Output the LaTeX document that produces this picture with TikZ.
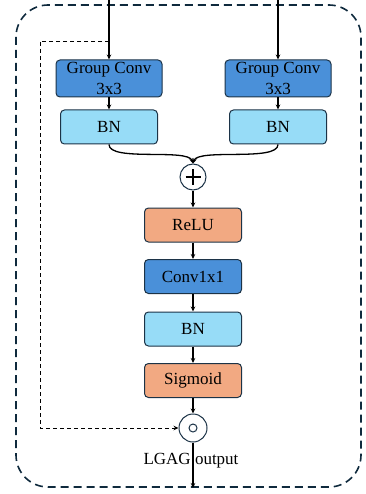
\documentclass[tikz,border=0pt]{standalone}
\usepackage{fontspec}
\setmainfont{Liberation Serif}
\usetikzlibrary{arrows.meta}
\definecolor{navy}{HTML}{0F2A3D}
\definecolor{gconv}{HTML}{4A90D9}
\definecolor{bnblue}{HTML}{97DCF7}
\definecolor{salmon}{HTML}{F2A982}
\definecolor{edge}{HTML}{1C3347}
\begin{document}
\begin{tikzpicture}[x=1pt,y=-1pt,
  txt/.style={font=\fontsize{17}{17}\selectfont},
  blk/.style={draw=edge,line width=1pt,rounded corners=4pt,minimum height=34pt,inner sep=0pt,txt},
  arr/.style={-{Stealth[length=5pt,width=4.5pt]},line width=1.3pt,black},
  darr/.style={-{Stealth[length=5pt,width=4.5pt]},line width=0.9pt,black,dash pattern=on 4pt off 3pt}]
\useasboundingbox (0,0) rectangle (365,494);
\draw[navy,line width=1.6pt,dash pattern=on 8pt off 5pt,rounded corners=32pt] (16,5) rectangle (361,487);
% top nodes
\node[blk,fill=gconv,minimum width=106pt,minimum height=37pt] (g1) at (109,78.5) {};
\node[blk,fill=gconv,minimum width=106pt,minimum height=37pt] (g2) at (278,78.5) {};
\node[txt] (g1a) at (109,70) {Group Conv};
\node[txt] (g1b) at (109,89) {3x3};
\node[txt] (g2a) at (278,70) {Group Conv};
\node[txt] (g2b) at (278,89) {3x3};
\node[blk,fill=bnblue,minimum width=97pt] (b1) at (109,127) {BN};
\node[blk,fill=bnblue,minimum width=97pt] (b2) at (278,127) {BN};
\node[circle,draw=edge,fill=white,line width=1pt,minimum size=26pt,inner sep=0pt] (plus) at (193,177) {};
\draw[line width=1.4pt] (185.5,177) -- (200.5,177) (193,169.5) -- (193,184.5);
\node[blk,fill=salmon,minimum width=97pt] (relu) at (193,225) {ReLU};
\node[blk,fill=gconv,minimum width=97pt] (c11) at (193,276.5) {Conv1x1};
\node[blk,fill=bnblue,minimum width=97pt] (b3) at (193,329) {BN};
\node[blk,fill=salmon,minimum width=97pt] (sig) at (193,380.5) {Sigmoid};
\node[circle,draw=edge,fill=white,line width=1pt,minimum size=28pt,inner sep=0pt] (dot) at (193,428) {};
\draw[edge,line width=1pt] (dot.center) circle (4pt);
\coordinate (in1) at (109,0);
\coordinate (in2) at (278,0);
\coordinate (out) at (193,488);
\coordinate (sk1) at (109,41);
\coordinate (sk2) at (40,41);
\coordinate (sk3) at (40,428);
% connectors
\draw[arr] (in1) -- (g1.north);
\draw[arr] (in2) -- (g2.north);
\draw[arr] (g1.south) -- (b1.north);
\draw[arr] (g2.south) -- (b2.north);
\draw[arr] (b1.south) .. controls (109,162) and (188,148) .. (plus.north);
\draw[arr] (b2.south) .. controls (278,162) and (198,148) .. (plus.north);
\draw[arr] (plus.south) -- (relu.north);
\draw[arr] (relu.south) -- (c11.north);
\draw[arr] (c11.south) -- (b3.north);
\draw[arr] (b3.south) -- (sig.north);
\draw[arr] (sig.south) -- (dot.north);
\draw[darr] (sk1) -- (sk2) -- (sk3) -- (dot.west);
\draw[arr] (dot.south) -- (out);
\node[txt] (lbl) at (191,461) {LGAG output};
\end{tikzpicture}
\end{document}
